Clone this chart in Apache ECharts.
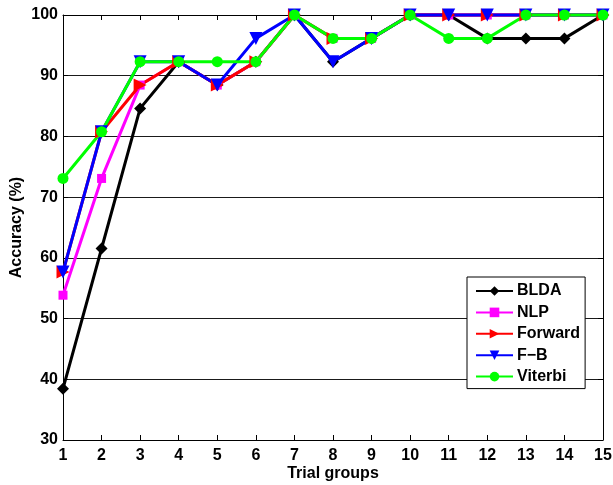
<!DOCTYPE html>
<html><head><meta charset="utf-8">
<script src="https://cdn.jsdelivr.net/npm/echarts@6/dist/echarts.min.js"></script>
<style>html,body{margin:0;padding:0;background:#fff}#c{width:613px;height:485px}</style>
</head><body><div id="c"></div>
<script>
const groups = [1,2,3,4,5,6,7,8,9,10,11,12,13,14,15];
const blda    = [38.46,61.54,84.62,92.31,88.46,92.31,100,92.31,96.15,100,100,96.15,96.15,96.15,100];
const nlp     = [53.85,73.08,88.46,92.31,88.46,92.31,100,96.15,96.15,100,100,100,100,100,100];
const forward = [57.69,80.77,88.46,92.31,88.46,92.31,100,96.15,96.15,100,100,100,100,100,100];
const fb      = [57.69,80.77,92.31,92.31,88.46,96.15,100,92.31,96.15,100,100,100,100,100,100];
const viterbi = [73.08,80.77,92.31,92.31,92.31,92.31,100,96.15,96.15,100,96.15,96.15,100,100,100];
const yTicks = [30,40,50,60,70,80,90,100];

const font = 'Liberation Sans, Arial, sans-serif';
function pts(arr){ return groups.map((g,i)=>[g,arr[i]]); }
function ser(name, arr, color, symbol, size, rot){
  return {name, type:'line', data:pts(arr), clip:false,
    lineStyle:{color, width:3}, itemStyle:{color},
    symbol, symbolSize:size, symbolRotate:rot||0, showAllSymbol:true, animation:false};
}
const chart = echarts.init(document.getElementById('c'), null, {renderer:'canvas'});
const axisCommon = {type:'value', axisLine:{show:true, lineStyle:{color:'#000', width:1}},
  axisTick:{show:true, inside:true, length:5, lineStyle:{color:'#000'}}, splitLine:{show:false}};
const txt = {fontFamily:font, fontWeight:'bold', fontSize:16, color:'#000'};
chart.setOption({
  animation:false,
  grid:{left:63, right:10, top:15, bottom:45, containLabel:false, outerBoundsMode:'none'},
  xAxis:[
    Object.assign({}, axisCommon, {min:1, max:15, interval:1, position:'bottom',
      name:'Trial groups', nameLocation:'middle', nameGap:26, nameMoveOverlap:false,
      nameTextStyle:txt,
      axisLabel:Object.assign({margin:8}, txt)}),
    Object.assign({}, axisCommon, {min:1, max:15, interval:1, position:'top', axisLabel:{show:false}})
  ],
  yAxis:[
    Object.assign({}, axisCommon, {min:yTicks[0], max:yTicks[yTicks.length-1], interval:10, position:'left',
      name:'Accuracy (%)', nameLocation:'middle', nameGap:38, nameMoveOverlap:false,
      nameTextStyle:txt,
      axisLabel:Object.assign({margin:5}, txt),
      splitLine:{show:true, lineStyle:{color:'#1a1a1a', width:1}}}),
    Object.assign({}, axisCommon, {min:yTicks[0], max:yTicks[yTicks.length-1], interval:10, position:'right', axisLabel:{show:false}})
  ],
  legend:{
    orient:'vertical', left:467, top:277,
    backgroundColor:'#fff', borderColor:'#000', borderWidth:1, borderRadius:0,
    padding:[6,5,4,8], itemGap:5.4, itemWidth:37, itemHeight:12,
    textStyle:Object.assign({lineHeight:16, padding:[0,0,0,-1]}, txt),
    data:['BLDA','NLP','Forward','F\u2212B','Viterbi']
  },
  series:[
    ser('BLDA', blda, '#000000', 'diamond', 12),
    ser('NLP', nlp, '#ff00ff', 'rect', 9),
    ser('Forward', forward, '#ff0000', 'triangle', 13, -90),
    ser('F\u2212B', fb, '#0000ff', 'triangle', 13, 180),
    ser('Viterbi', viterbi, '#00ff00', 'circle', 11)
  ]
});
</script></body></html>
